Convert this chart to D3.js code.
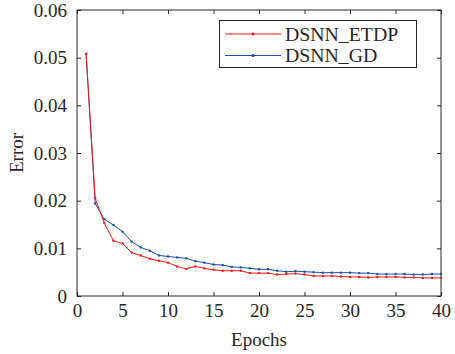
<!DOCTYPE html>
<html><head><meta charset="utf-8">
<script src="https://cdn.jsdelivr.net/npm/d3@7"></script>
<style>body{margin:0;background:#fff}svg{display:block}</style>
</head><body>
<svg id="c" width="455" height="354"></svg>
<script>
const epochs = d3.range(1, 41);
const etdp = [0.0508,0.0205,0.0153,0.0116,0.0110,0.0091,0.0085,0.0078,0.0074,0.0070,
  0.0062,0.0057,0.0062,0.0058,0.0055,0.0053,0.0053,0.0053,0.0048,0.0048,
  0.0048,0.0045,0.0046,0.0047,0.0045,0.0042,0.0042,0.0042,0.0041,0.0040,
  0.0040,0.0039,0.0040,0.0040,0.0040,0.0039,0.0039,0.0038,0.0038,0.0038];
const gd = [0.0508,0.0194,0.0161,0.0149,0.0135,0.0114,0.0102,0.0095,0.0085,0.0083,
  0.0081,0.0079,0.0073,0.0070,0.0066,0.0065,0.0061,0.0060,0.0058,0.0056,
  0.0056,0.0053,0.0051,0.0052,0.0051,0.0050,0.0049,0.0049,0.0049,0.0049,
  0.0048,0.0048,0.0046,0.0046,0.0046,0.0046,0.0045,0.0045,0.0046,0.0046];
const xTicks = [0,5,10,15,20,25,30,35,40];
const yTicks = [0,0.01,0.02,0.03,0.04,0.05,0.06];
const seriesNames = ["DSNN_ETDP","DSNN_GD"];
const colors = ["#ff1a1a","#1f4fa8"];

const FONT = "'Liberation Serif', 'Times New Roman', 'DejaVu Serif', serif";
const svg = d3.select("#c");
const L=77, R=441, T=10, B=296;
const x = d3.scaleLinear().domain([0,40]).range([L,R]);
const y = d3.scaleLinear().domain([0,0.06]).range([B,T]);
const axisColor = "#262626";
const fs = 19;

svg.append("rect").attr("x",L).attr("y",T).attr("width",R-L).attr("height",B-T)
  .attr("fill","none").attr("stroke",axisColor).attr("stroke-width",1);

const tl = 4;
const gx = svg.append("g").attr("transform",`translate(0,${B})`)
  .call(d3.axisBottom(x).tickValues(xTicks).tickSize(-tl).tickPadding(8).tickFormat(d3.format("d")));
const gxt = svg.append("g").attr("transform",`translate(0,${T})`)
  .call(d3.axisTop(x).tickValues(xTicks).tickSize(-tl).tickFormat(""));
const gy = svg.append("g").attr("transform",`translate(${L},0)`)
  .call(d3.axisLeft(y).tickValues(yTicks).tickSize(-tl).tickPadding(10).tickFormat(d => d===0?"0":d3.format(".2f")(d)));
const gyr = svg.append("g").attr("transform",`translate(${R},0)`)
  .call(d3.axisRight(y).tickValues(yTicks).tickSize(-tl).tickFormat(""));
[gx,gxt,gy,gyr].forEach(g=>{
  g.attr("font-family",null).attr("font-size",null);
  g.select(".domain").remove();
  g.selectAll(".tick line").attr("stroke",axisColor);
  g.selectAll("text").style("font-family",FONT).style("font-size",fs+"px").attr("fill","#262626");
});
gx.selectAll("text").attr("dy","0.71em");

svg.append("text").attr("x",(L+R)/2).attr("y",346).attr("text-anchor","middle")
  .style("font-family",FONT).style("font-size",fs+"px").attr("fill","#262626").text("Epochs");
svg.append("text").attr("transform",`translate(23,${(T+B)/2}) rotate(-90)`).attr("text-anchor","middle")
  .style("font-family",FONT).style("font-size",fs+"px").attr("fill","#262626").text("Error");

const line = d3.line().x((d,i)=>x(epochs[i])).y(d=>y(d));
[gd, etdp].forEach((s,k)=>{
  const c = k===0?colors[1]:colors[0];
  svg.append("path").datum(s).attr("d",line).attr("fill","none").attr("stroke",c).attr("stroke-width",1);
  svg.append("g").selectAll("circle").data(s).join("circle")
    .attr("cx",(d,i)=>x(epochs[i])).attr("cy",d=>y(d)).attr("r",1.2).attr("fill",c);
});

const lg = svg.append("g");
lg.append("rect").attr("x",219.5).attr("y",20.5).attr("width",197).attr("height",47)
  .attr("fill","#fff").attr("stroke",axisColor).attr("stroke-width",1);
seriesNames.forEach((n,i)=>{
  const yy = 34 + i*21.5;
  lg.append("line").attr("x1",225).attr("x2",281).attr("y1",yy).attr("y2",yy).attr("stroke",colors[i]).attr("stroke-width",1);
  lg.append("circle").attr("cx",253).attr("cy",yy).attr("r",1.5).attr("fill",colors[i]);
  lg.append("text").attr("x",285).attr("y",yy).attr("dy","0.35em")
    .style("font-family",FONT).style("font-size","19.8px").attr("fill","#262626").text(n);
});
</script>
</body></html>
